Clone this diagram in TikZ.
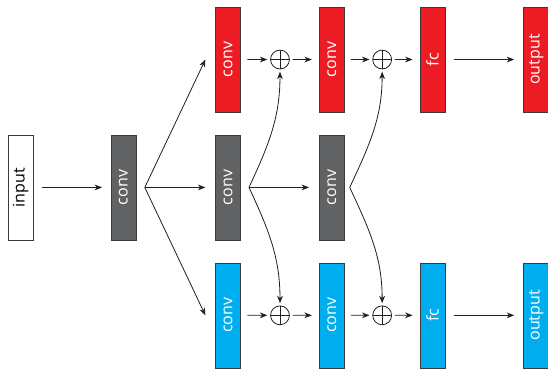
\documentclass[tikz,border=0pt]{standalone}
\usepackage{fontspec}
\setmainfont{Open Sans}
\usetikzlibrary{positioning,arrows.meta,calc}
\definecolor{convRed}{HTML}{ED1C24}
\definecolor{convGray}{HTML}{616264}
\definecolor{convBlue}{HTML}{00AEEF}
\definecolor{lineDark}{HTML}{231F20}
\definecolor{edgeDark}{HTML}{3A3A3C}

\newcommand{\vlabel}[1]{\rotatebox{90}{#1}}

\begin{document}
\begin{tikzpicture}[
  flow/.style={-{Stealth[length=2.6mm,width=2mm,inset=0.8mm]}, line width=0.8pt, draw=lineDark},
  layer/.style={
    rectangle,
    draw=edgeDark,
    fill=#1,
    line width=0.6pt,
    minimum width=0.875cm,
    minimum height=3.675cm,
    inner sep=0pt,
    text=white,
    font=\fontsize{16}{19}\selectfont
  },
  sum/.style={
    circle,
    draw=lineDark,
    line width=0.8pt,
    minimum size=0.66cm,
    inner sep=0pt,
    path picture={
      \draw[lineDark, line width=0.7pt]
        (path picture bounding box.north) -- (path picture bounding box.south)
        (path picture bounding box.west) -- (path picture bounding box.east);
    }
  }
]
  \useasboundingbox (0,0) rectangle (19.18,12.88);

  % Stem
  \node[layer=convGray] (convIn) at (4.32,6.32) {\vlabel{conv}};
  \node[layer=white, text=black, left=2.7cm of convIn] (inp) {\vlabel{input}};

  % Middle branch
  \node[layer=convGray, right=2.77cm of convIn] (convMid1) {\vlabel{conv}};
  \node[layer=convGray, right=2.73cm of convMid1] (convMid2) {\vlabel{conv}};

  % Top branch
  \node[layer=convRed, above=0.78cm of convMid1] (convTop1) {\vlabel{conv}};
  \node[layer=convRed, above=0.78cm of convMid2] (convTop2) {\vlabel{conv}};
  \node[layer=convRed, right=2.63cm of convTop2] (fcTop) {\vlabel{fc}};
  \node[layer=convRed, right=2.73cm of fcTop] (outTop) {\vlabel{output}};
  \node[sum] (sumTop1) at ($(convTop1)!0.5!(convTop2)$) {};
  \node[sum] (sumTop2) at ($(convTop2)!0.5!(fcTop)$) {};

  % Bottom branch
  \node[layer=convBlue, below=0.78cm of convMid1] (convBot1) {\vlabel{conv}};
  \node[layer=convBlue, below=0.78cm of convMid2] (convBot2) {\vlabel{conv}};
  \node[layer=convBlue, right=2.63cm of convBot2] (fcBot) {\vlabel{fc}};
  \node[layer=convBlue, right=2.73cm of fcBot] (outBot) {\vlabel{output}};
  \node[sum] (sumBot1) at ($(convBot1)!0.5!(convBot2)$) {};
  \node[sum] (sumBot2) at ($(convBot2)!0.5!(fcBot)$) {};

  % Split points
  \coordinate[right=0.3cm of convIn] (split0);
  \coordinate[right=0.28cm of convMid1] (split1);
  \coordinate[right=0.18cm of convMid2] (split2);

  % Main flows
  \draw[flow, shorten <=0.3cm, shorten >=0.3cm] (inp) -- (convIn);
  \draw[flow] (split0) -- ([xshift=-0.35cm]convTop1.west);
  \draw[flow] (split0) -- ([xshift=-0.35cm]convMid1.west);
  \draw[flow] (split0) -- ([xshift=-0.35cm]convBot1.west);

  \draw[flow, shorten <=0.22cm, shorten >=0.1cm] (convTop1) -- (sumTop1);
  \draw[flow, shorten <=0.1cm, shorten >=0.25cm] (sumTop1) -- (convTop2);
  \draw[flow, shorten <=0.22cm, shorten >=0.1cm] (convTop2) -- (sumTop2);
  \draw[flow, shorten <=0.1cm, shorten >=0.25cm] (sumTop2) -- (fcTop);
  \draw[flow, shorten <=0.32cm, shorten >=0.32cm] (fcTop) -- (outTop);

  \draw[flow, shorten <=0.22cm, shorten >=0.1cm] (convBot1) -- (sumBot1);
  \draw[flow, shorten <=0.1cm, shorten >=0.25cm] (sumBot1) -- (convBot2);
  \draw[flow, shorten <=0.22cm, shorten >=0.1cm] (convBot2) -- (sumBot2);
  \draw[flow, shorten <=0.1cm, shorten >=0.25cm] (sumBot2) -- (fcBot);
  \draw[flow, shorten <=0.32cm, shorten >=0.32cm] (fcBot) -- (outBot);

  % Shared features fed into both heads
  \draw[flow] (split1) -- ([xshift=-0.35cm]convMid2.west);
  \draw[flow, shorten >=0.08cm] (split1) to[out=65,in=-90] (sumTop1.south);
  \draw[flow, shorten >=0.08cm] (split1) to[out=-65,in=90] (sumBot1.north);
  \draw[flow, shorten >=0.08cm] (split2) to[out=65,in=-90] (sumTop2.south);
  \draw[flow, shorten >=0.08cm] (split2) to[out=-65,in=90] (sumBot2.north);
\end{tikzpicture}
\end{document}
